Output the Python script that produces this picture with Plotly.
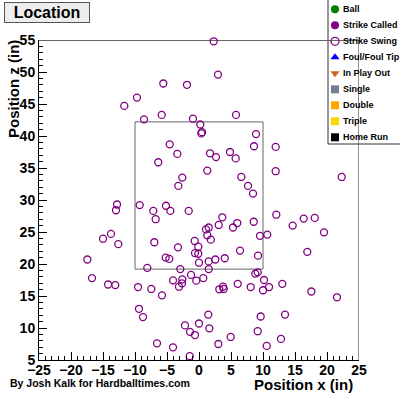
import plotly.graph_objects as go

# Pitch locations (Strike Swing) in inches
swing_x = [-5.58, -1.88, -9.69, -11.67, -8.59, -5.83, -0.94, 0.20, 0.47, 0.36,
           -4.58, -3.39, -6.36, -2.61, -3.23, 1.72, 1.30, 2.30, 2.97, 5.78,
           8.91, 8.59, 11.98, 2.66, 4.84, 5.73, 6.61, 11.98, 22.3, 7.66,
           -12.81, -12.97, -9.27, -5.16, -4.48, -7.14, -6.77, -1.61, -13.75, -15.0,
           -12.61, -6.98, -3.28, -0.67, -0.11, 1.09, 1.30, 1.84, -0.63, -0.11,
           0.0, -5.2, -4.64, 1.52, 1.52, -17.45, -8.08, -2.92, -16.72, -4.06,
           -2.61, -1.25, -0.42, 0.67, -2.66, -3.13, -14.2, -13.08, -9.53, -7.45,
           -5.78, -9.38, -8.75, -2.19, -1.41, -0.63, 0.0, -6.56, -4.06, 1.45,
           1.61, 8.44, 12.08, 3.64, 3.08, 5.98, 5.31, 8.55, 14.64, 16.36,
           18.08, 19.53, 1.52, 9.53, 10.67, 6.41, 4.02, 2.55, 9.22, 16.92,
           8.8, 9.17, 10.16, 10.94, 10.0, 13.02, 6.05, 8.08, 3.75, 3.17,
           3.86, 17.55, 21.56, 9.64, 13.44, 9.17, 4.95, 12.81, 3.02, 10.58,
           -1.45, 17.08, -0.11]
swing_z = [48.2, 48.0, 46.0, 44.7, 42.6, 43.3, 42.7, 41.8, 40.6, 40.4,
           38.7, 37.2, 35.9, 33.5, 32.2, 37.3, 34.6, 54.8, 49.6, 43.3,
           40.3, 38.4, 38.3, 36.7, 37.5, 36.5, 33.6, 34.5, 33.6, 32.2,
           29.3, 28.4, 29.2, 29.1, 28.3, 28.3, 27.0, 28.3, 24.7, 23.95,
           23.1, 23.4, 22.6, 23.6, 22.7, 25.4, 24.5, 23.8, 21.7, 21.6,
           20.2, 21.0, 20.8, 20.4, 19.2, 20.7, 19.4, 19.2, 17.8, 17.45,
           17.6, 18.3, 17.4, 17.8, 16.98, 16.45, 16.8, 16.7, 16.4, 16.1,
           15.1, 13.0, 11.7, 10.4, 9.4, 8.9, 10.7, 7.6, 6.98, 12.1,
           9.95, 31.0, 27.7, 27.3, 26.1, 26.4, 25.7, 26.6, 26.0, 27.1,
           27.2, 24.95, 25.7, 24.4, 24.6, 22.1, 20.9, 20.7, 21.3, 21.9,
           18.5, 18.7, 17.5, 16.4, 15.9, 16.9, 16.9, 16.4, 16.45, 16.05,
           16.1, 15.7, 14.8, 11.8, 12.1, 9.5, 8.6, 8.3, 7.5, 7.2,
           5.6, 4.8, 3.2]

# Strike zone (inches)
zone_x = [-10, 10]
zone_z = [19.2, 42.2]

# Legend categories
categories = ["Ball", "Strike Called", "Strike Swing", "Foul/Foul Tip",
              "In Play Out", "Single", "Double", "Triple", "Home Run"]
cat_symbols = ["circle", "circle", "circle-open", "triangle-up", "triangle-down",
               "square", "square", "square", "square"]
cat_colors = ["#008000", "#800080", "#800080", "#0000ff", "#cc6622",
              "#708090", "#ffa500", "#ffd700", "#000000"]

FONT = "Liberation Sans"
W = H = 400.0

def px(x):
    return x / W

def py(y):
    return 1 - y / H

fig = go.Figure()

# data trace
fig.add_trace(go.Scatter(
    x=swing_x, y=swing_z, mode="markers", name="Strike Swing",
    cliponaxis=False, xaxis="x", yaxis="y",
    marker=dict(symbol="circle-open", size=7, color=cat_colors[2],
                line=dict(width=1.3, color=cat_colors[2]))))

# legend key glyphs on a pixel-space overlay axis
n = len(categories)
key_x = [335] * n
key_y = [9.3 + 16 * i for i in range(n)]
fig.add_trace(go.Scatter(
    x=key_x, y=key_y, mode="markers", xaxis="x2", yaxis="y2",
    hoverinfo="skip",
    marker=dict(symbol=cat_symbols, size=8, color=cat_colors,
                line=dict(width=[1.3 if s == "circle-open" else 0 for s in cat_symbols],
                          color=cat_colors))))

shapes = [
    # strike zone
    dict(type="rect", x0=zone_x[0], x1=zone_x[1], y0=zone_z[0], y1=zone_z[1],
         xref="x", yref="y", layer="below", line=dict(color="#666666", width=1)),
    # frame top and right
    dict(type="line", x0=-25, x1=25, y0=55, y1=55, xref="x", yref="y",
         layer="below", line=dict(color="#666666", width=2)),
    dict(type="line", x0=25, x1=25, y0=5, y1=55, xref="x", yref="y",
         layer="below", line=dict(color="#222222", width=1)),
    # legend box (drawn over the frame lines, under the key glyphs)
    dict(type="rect", x0=px(328), x1=px(402), y0=py(144), y1=py(-2),
         xref="paper", yref="paper", fillcolor="white", layer="below",
         line=dict(color="#333333", width=1)),
]

annotations = [
    dict(text="Location", x=px(47), y=py(12), xref="paper", yref="paper",
         xanchor="center", yanchor="middle", showarrow=False, width=82, height=17,
         font=dict(family=FONT, size=16, color="black", weight="bold"),
         bgcolor="#eeeeee", bordercolor="#555555", borderwidth=1, borderpad=1),
    dict(text="Position z (in)", x=px(14), y=py(38), xref="paper", yref="paper",
         xanchor="center", yanchor="top", textangle=-90, showarrow=False,
         font=dict(family=FONT, size=15, color="black", weight="bold")),
    dict(text="Position x (in)", x=px(355), y=py(384), xref="paper", yref="paper",
         xanchor="right", yanchor="middle", showarrow=False,
         font=dict(family=FONT, size=15, color="black", weight="bold")),
    dict(text="By Josh Kalk for Hardballtimes.com", x=px(8), y=py(382.5),
         xref="paper", yref="paper", xanchor="left", yanchor="middle",
         showarrow=False,
         font=dict(family=FONT, size=10.5, color="black", weight="bold")),
]
for i, name in enumerate(categories):
    annotations.append(dict(
        text=name, x=px(341), y=py(key_y[i]), xref="paper", yref="paper",
        xanchor="left", yanchor="middle", showarrow=False,
        font=dict(family=FONT, size=9, color="black", weight="bold")))

tickfont = dict(family=FONT, size=14, color="black", weight="bold")
axis_common = dict(showgrid=False, zeroline=False, showline=True, linecolor="black",
                   linewidth=1, ticks="inside", ticklen=8, tickcolor="black",
                   tickwidth=1, dtick=5, tickfont=tickfont,
                   minor=dict(ticks="inside", ticklen=4, dtick=1, tickcolor="black"))

fig.update_layout(
    width=400, height=400,
    margin=dict(l=0, r=0, t=0, b=0, autoexpand=False),
    paper_bgcolor="white", plot_bgcolor="rgba(0,0,0,0)",
    showlegend=False,
    xaxis=dict(domain=[px(39), px(359)], range=[-25, 25], tick0=-25,
               anchor="y", ticklabelstandoff=-3, **axis_common),
    yaxis=dict(domain=[py(360), py(40)], range=[5, 55], tick0=5,
               anchor="x", **axis_common),
    xaxis2=dict(domain=[0, 1], range=[0, 400], visible=False, anchor="y2",
                fixedrange=True),
    yaxis2=dict(domain=[0, 1], range=[400, 0], visible=False, anchor="x2",
                fixedrange=True),
    shapes=shapes,
    annotations=annotations,
)

fig.write_html("out.html",
               config={"displayModeBar": False},
               post_script="document.body.style.margin='0px';"
                           "document.body.style.overflow='hidden';")
